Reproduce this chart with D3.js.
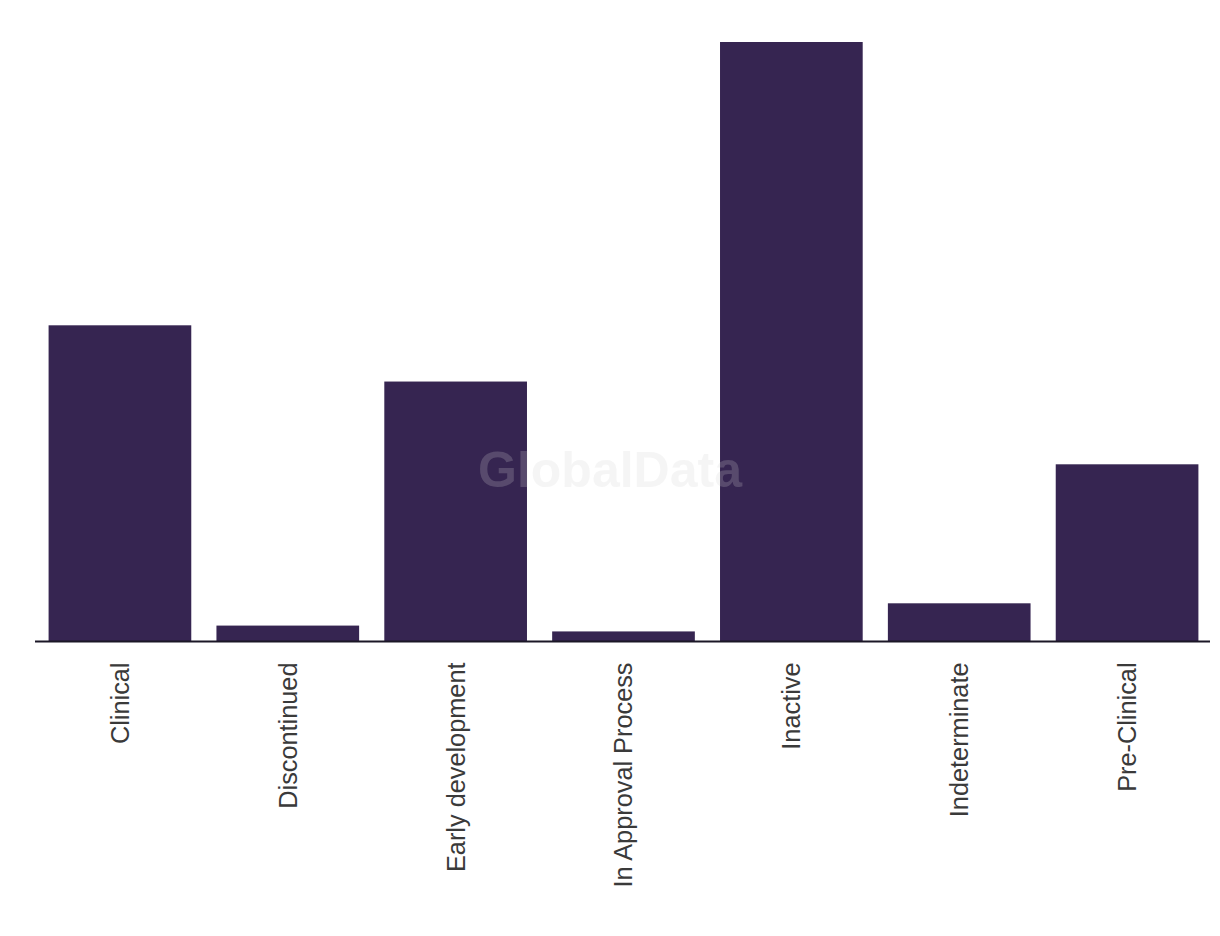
<!DOCTYPE html>
<html><head><meta charset="utf-8">
<script src="https://cdn.jsdelivr.net/npm/d3@7"></script>
<style>html,body{margin:0;padding:0;background:#fff;}</style>
</head><body>
<svg id="chart" width="1220" height="936"></svg>
<script>
const categories = ["Clinical","Discontinued","Early development","In Approval Process","Inactive","Indeterminate","Pre-Clinical"];
const values = [59.6, 3, 49, 1.9, 113, 7.2, 33.4];

const svg = d3.select("#chart");
const x = d3.scaleBand().domain(categories).range([36, 1211]).paddingInner(0.15).paddingOuter(0.075);
const y = d3.scaleLinear().domain([0, d3.max(values)]).range([641.5, 42]);

svg.append("g").selectAll("rect").data(categories).join("rect")
  .attr("x", d => x(d)).attr("width", x.bandwidth())
  .attr("y", (d,i) => y(values[i])).attr("height", (d,i) => y(0) - y(values[i]))
  .attr("fill", "#362551");

const ax = svg.append("g").attr("transform", "translate(0,641.5)")
  .call(d3.axisBottom(x).tickSize(0).tickPadding(0));
ax.select(".domain").attr("stroke", "#1b1726").attr("stroke-width", 2).attr("d", "M35,0H1210");
ax.selectAll("text")
  .attr("transform", "rotate(-90)")
  .attr("text-anchor", "end")
  .attr("x", -21).attr("y", 0).attr("dy", "0.35em")
  .style("font-family", "'Liberation Sans', Arial, sans-serif")
  .style("font-size", "25.3px")
  .attr("fill", "#3a3a3a");

svg.append("text").attr("x", 610).attr("y", 487).attr("text-anchor", "middle")
  .style("font-family", "'Liberation Sans', Arial, sans-serif").style("font-weight", "bold")
  .style("font-size", "50px").attr("fill", "#d0d0d0").attr("fill-opacity", 0.22)
  .text("GlobalData");
</script>
</body></html>
